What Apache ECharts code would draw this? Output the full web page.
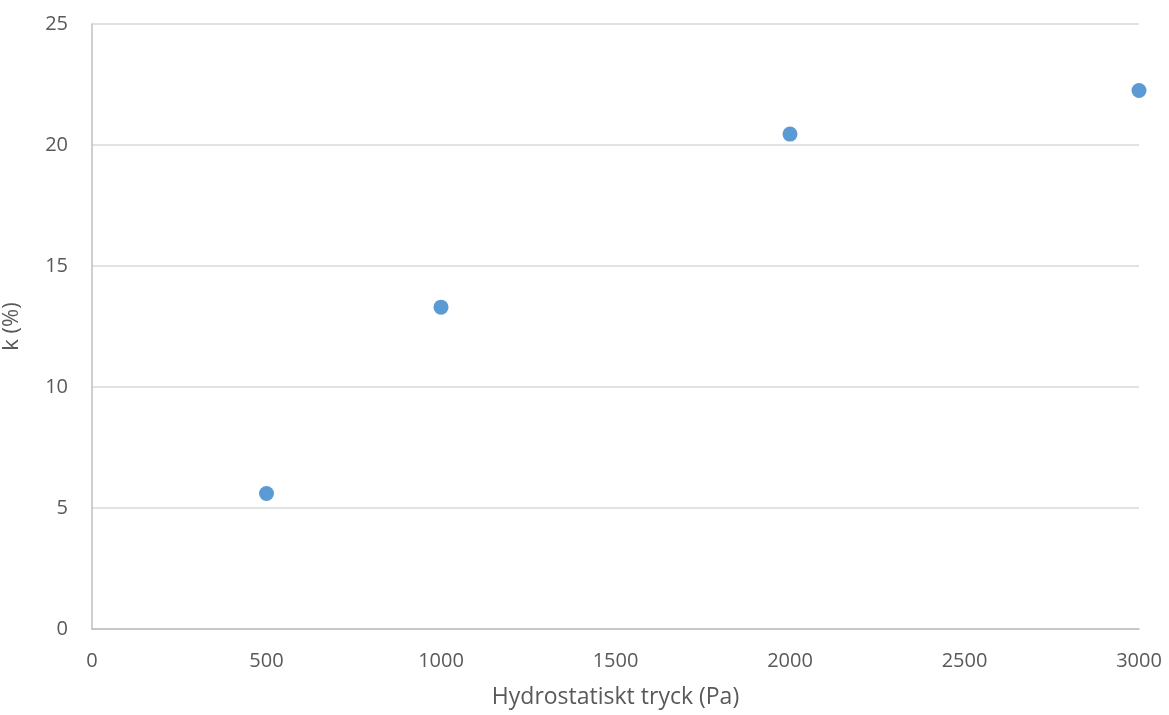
<!DOCTYPE html>
<html>
<head>
<meta charset="utf-8">
<script src="https://cdn.jsdelivr.net/npm/echarts@6/dist/echarts.min.js"></script>
<style>html,body{margin:0;padding:0;background:#fff}#c{width:1169px;height:715px}</style>
</head>
<body>
<div id="c"></div>
<script>
const xValues = [500, 1000, 2000, 3000];
const kValues = [5.6, 13.3, 20.45, 22.25];
const xAxisName = 'Hydrostatiskt tryck (Pa)';
const yAxisName = 'k (%)';

const chart = echarts.init(document.getElementById('c'), null, {renderer: 'canvas'});
const font = '"Open Sans", "Liberation Sans", sans-serif';
chart.setOption({
  animation: false,
  backgroundColor: '#fff',
  grid: {left: 92, right: 30, top: 24, bottom: 86, containLabel: false, outerBoundsMode: 'none'},
  xAxis: {
    type: 'value', min: 0, max: 3000, interval: 500,
    name: xAxisName, nameLocation: 'middle', nameGap: 57,
    nameTextStyle: {color: '#595959', fontSize: 23, fontFamily: font},
    axisLine: {show: true, lineStyle: {color: '#bfbfbf', width: 1.5}},
    axisTick: {show: false},
    axisLabel: {color: '#595959', fontSize: 20, fontFamily: font, margin: 22, formatter: v => String(v)},
    splitLine: {show: false}
  },
  yAxis: {
    type: 'value', min: 0, max: 25, interval: 5,
    name: yAxisName, nameLocation: 'middle', nameGap: 69, nameRotate: 90,
    nameTextStyle: {color: '#595959', fontSize: 22, fontFamily: font},
    axisLine: {show: true, lineStyle: {color: '#bfbfbf', width: 1.5}},
    axisTick: {show: false},
    axisLabel: {color: '#595959', fontSize: 20, fontFamily: font, margin: 24, formatter: v => String(v)},
    splitLine: {show: true, lineStyle: {color: '#d9d9d9', width: 1.5}}
  },
  series: [{
    type: 'scatter',
    data: xValues.map((x, i) => [x, kValues[i]]),
    symbol: 'circle', symbolSize: 15,
    itemStyle: {color: '#5b9bd5', opacity: 1},
    clip: false
  }]
});
</script>
</body>
</html>
